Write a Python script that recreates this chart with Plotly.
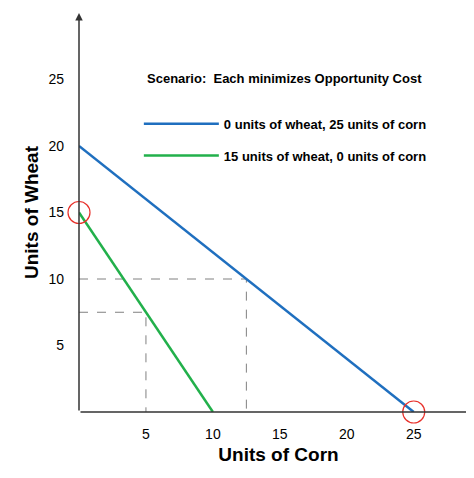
import plotly.graph_objects as go

# data
blue_x = [0, 25]
blue_y = [20, 0]
green_x = [0, 10]
green_y = [15, 0]
dash1_x = [0, 12.5, 12.5]
dash1_y = [10, 10, 0]
dash2_x = [0, 5, 5]
dash2_y = [7.5, 7.5, 0]
circle_x = [0, 25]
circle_y = [15, 0]
ticks = [5, 10, 15, 20, 25]

fig = go.Figure()
fig.add_trace(go.Scatter(x=dash1_x, y=dash1_y, mode="lines", showlegend=False,
                         line=dict(color="#808080", width=1, dash="dash")))
fig.add_trace(go.Scatter(x=dash2_x, y=dash2_y, mode="lines", showlegend=False,
                         line=dict(color="#808080", width=1, dash="dash")))
fig.add_trace(go.Scatter(x=blue_x, y=blue_y, mode="lines", legendgroup="a",
                         name="0 units of wheat, 25 units of corn",
                         line=dict(color="#1f6fbf", width=2.5)))
fig.add_trace(go.Scatter(x=green_x, y=green_y, mode="lines", legendgroup="b",
                         name="15 units of wheat, 0 units of corn",
                         line=dict(color="#22b04b", width=2.5)))
fig.add_trace(go.Scatter(x=circle_x, y=circle_y, mode="markers", showlegend=False,
                         cliponaxis=False,
                         marker=dict(size=22, color="rgba(0,0,0,0)",
                                     line=dict(color="#e8302a", width=1.2))))

axis_common = dict(showgrid=False, zeroline=False, showline=False, ticks="",
                   tickvals=ticks, tickfont=dict(size=14, color="black"))
fig.update_xaxes(range=[0, 29.8], ticklabelstandoff=12, **axis_common,
                 title=dict(text="<b>Units of Corn</b>", font=dict(size=19, color="black"), standoff=6))
fig.update_yaxes(range=[0, 30], ticklabelstandoff=14, **axis_common,
                 title=dict(text="<b>Units of Wheat</b>", font=dict(size=19, color="black"), standoff=4))

# axis lines with arrowheads
fig.add_annotation(x=1, y=0, ax=0, ay=0, xref="x domain", yref="y domain",
                   axref="x domain", ayref="y domain",
                   showarrow=True, arrowhead=2, arrowsize=1, arrowwidth=1.5, arrowcolor="#333", text="")
fig.add_annotation(x=0, y=1, ax=0, ay=0, xref="x domain", yref="y domain",
                   axref="x domain", ayref="y domain",
                   showarrow=True, arrowhead=2, arrowsize=1, arrowwidth=1.5, arrowcolor="#333", text="")

fig.add_annotation(x=0.165, y=0.835, xref="paper", yref="paper", xanchor="left", yanchor="middle",
                   showarrow=False, text="<b>Scenario:  Each minimizes Opportunity Cost</b>",
                   font=dict(size=13, color="black"))

fig.update_layout(
    width=474, height=478,
    margin=dict(l=71, r=4, t=5, b=74),
    plot_bgcolor="white", paper_bgcolor="white",
    font=dict(family="Liberation Sans, Arial", color="black"),
    legend=dict(x=0.15, y=0.76, xanchor="left", yanchor="top", bgcolor="rgba(0,0,0,0)",
                itemwidth=75, tracegroupgap=12,
                font=dict(size=13, color="black", weight="bold")),
)

fig.write_html("out.html")
